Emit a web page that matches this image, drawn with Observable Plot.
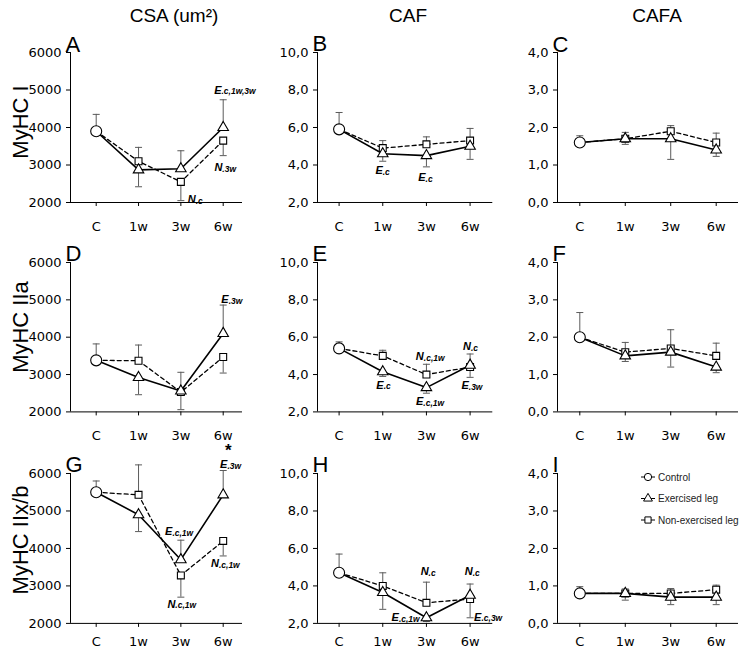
<!DOCTYPE html>
<html>
<head>
<meta charset="utf-8">
<script src="https://cdn.jsdelivr.net/npm/d3@7"></script>
<script src="https://cdn.jsdelivr.net/npm/@observablehq/plot@0.6"></script>
<style>
  html, body { margin: 0; padding: 0; background: #fff; }
  #wrap { position: relative; width: 745px; height: 655px; overflow: hidden; font-family: "Liberation Sans", Arial, sans-serif; color: #000; }
  .panel { position: absolute; }
  .coltitle { position: absolute; font-size: 19px; transform: translate(-50%, -50%); white-space: nowrap; }
  .rowlabel { position: absolute; font-size: 22px; white-space: nowrap; transform: translate(-50%, -50%) rotate(-90deg); }
  .legend { position: absolute; overflow: visible; }
</style>
</head>
<body>
<div id="wrap"></div>
<script>
// ---------- data ----------
const weeks = ["C", "1w", "3w", "6w"];
const panelLetters = ["A", "B", "C", "D", "E", "F", "G", "H", "I"];
const colTitles = ["CSA (um²)", "CAF", "CAFA"];
const rowLabels = ["MyHC I", "MyHC IIa", "MyHC IIx/b"];
const yTicksCSA = [2000, 3000, 4000, 5000, 6000];
const yTicksCAF = [2, 4, 6, 8, 10];
const yTicksCAFA = [0, 1, 2, 3, 4];
const seriesNames = ["Control", "Exercised leg", "Non-exercised leg"];

// control value (C) and end of its error bar, panels A..I
const controlMean = [3900, 5.9, 1.6, 3380, 5.4, 2.0, 5500, 4.7, 0.8];
const controlErr  = [4350, 6.8, 1.78, 3820, 5.75, 2.66, 5800, 5.7, 0.98];

// exercised leg at 1w, 3w, 6w
const exercisedMean = [
  [2870, 2900, 4000],
  [4.6, 4.5, 5.0],
  [1.7, 1.7, 1.4],
  [2920, 2560, 4100],
  [4.15, 3.3, 4.5],
  [1.5, 1.6, 1.2],
  [4900, 3700, 5430],
  [3.65, 2.3, 3.5],
  [0.8, 0.7, 0.7]
];
const exercisedErr = [
  [2420, 3380, 4740],
  [4.2, 3.9, 4.3],
  [1.55, 1.15, 1.23],
  [2460, 3060, 4860],
  [3.9, 3.0, 5.1],
  [1.35, 1.2, 1.05],
  [4450, 4220, 6080],
  [2.75, 2.1, 4.1],
  [0.62, 0.5, 0.5]
];
// non-exercised leg at 1w, 3w, 6w
const nonExercisedMean = [
  [3100, 2550, 3650],
  [4.9, 5.1, 5.3],
  [1.7, 1.9, 1.6],
  [3370, 2530, 3470],
  [5.0, 4.0, 4.4],
  [1.6, 1.7, 1.5],
  [5430, 3280, 4200],
  [4.0, 3.1, 3.3],
  [0.8, 0.8, 0.9]
];
const nonExercisedErr = [
  [3470, 2050, 3250],
  [5.3, 5.5, 5.95],
  [1.87, 2.05, 1.85],
  [3790, 2060, 3040],
  [5.3, 4.55, 3.85],
  [1.86, 2.2, 1.84],
  [6230, 2700, 3800],
  [4.7, 4.2, 2.3],
  [0.92, 0.93, 1.02]
];

// significance labels: panel, x (week index), y (value), main letter, subscript
const annotations = [
  ["A", 2.96, 5000, "E", ".c,1w,3w"],
  ["A", 2.98, 2930, "N", ".3w"],
  ["A", 2.35, 2070, "N", ".c"],
  ["B", 1.0, 3.69, "E", ".c"],
  ["B", 1.98, 3.33, "E", ".c"],
  ["D", 3.13, 5010, "E", ".3w"],
  ["E", 3.02, 5.48, "N", ".c"],
  ["E", 1.94, 4.95, "N", ".c,1w"],
  ["E", 1.02, 3.43, "E", ".c"],
  ["E", 1.93, 2.54, "E", ".c,1w"],
  ["E", 2.97, 3.39, "E", ".3w"],
  ["G", 3.1, 6230, "E", ".3w"],
  ["G", 1.8, 4440, "E", ".c,1w"],
  ["G", 2.9, 3595, "N", ".c,1w"],
  ["G", 1.87, 2515, "N", ".c,1w"],
  ["H", 2.05, 4.75, "N", ".c"],
  ["H", 3.06, 4.75, "N", ".c"],
  ["H", 1.37, 2.32, "E", ".c,1w"],
  ["H", 3.26, 2.33, "E", ".c,3w"]
];
const stars = [["G", 3.12, 6600]];

// ---------- layout ----------
const colAxisX  = [70, 316.7, 557];
const colFirstX = [95.7, 338.3, 579.3];
const colLastX  = [222.7, 469.3, 715.7];
const colEndX   = [242, 492, 738];
const rowTopY    = [51.7, 262.3, 473.4];
const rowBottomY = [201.7, 411.7, 623.3];
const xLabelPad  = [15, 15, 9];
const colTitleX = [174, 408, 657];
const rowLabelY = [122, 327, 540];
const yDomains = [[2000, 6000], [2, 10], [0, 4]];
const yTicks = [yTicksCSA, yTicksCAF, yTicksCAFA];
const yFormats = [d => String(d), d => d.toFixed(1).replace(".", ","), d => d.toFixed(1).replace(".", ",")];

const errColor = "#5a5a5a";
const capSymbol = {
  draw(context, size) {
    const w = Math.sqrt(size / Math.PI);
    context.moveTo(-w, 0);
    context.lineTo(w, 0);
  }
};

const wrap = document.getElementById("wrap");

function makePanel(p) {
  const c = p % 3, r = Math.floor(p / 3);
  const ML = 55, MR = 12, MT = 30, MB = 30;
  const innerW = colEndX[c] - colAxisX[c];
  const innerH = rowBottomY[r] - rowTopY[r];
  const step = (colLastX[c] - colFirstX[c]) / 3;
  const x0 = -(colFirstX[c] - colAxisX[c]) / step;
  const x1 = 3 + (colEndX[c] - colLastX[c]) / step;
  const [y0, y1] = yDomains[c];
  const ctrl = {i: 0, v: controlMean[p], e: controlErr[p]};
  const ex = exercisedMean[p].map((v, k) => ({i: k + 1, v, e: exercisedErr[p][k]}));
  const ne = nonExercisedMean[p].map((v, k) => ({i: k + 1, v, e: nonExercisedErr[p][k]}));
  const errs = [ctrl, ...ex, ...ne];
  const letter = panelLetters[p];
  const anns = annotations.filter(a => a[0] === letter);
  const st = stars.filter(a => a[0] === letter);

  const chart = Plot.plot({
    width: ML + innerW + MR,
    height: MT + innerH + MB,
    marginLeft: ML, marginRight: MR, marginTop: MT, marginBottom: MB,
    x: {domain: [x0, x1], label: null},
    y: {domain: [y0, y1], label: null},
    style: {fontFamily: "DejaVu Sans", fontSize: "13px", color: "#000", background: "transparent", overflow: "visible"},
    marks: [
      Plot.axisY({ticks: yTicks[c], tickFormat: yFormats[c], tickSize: 4, tickPadding: 5, fontSize: 13, label: null}),
      Plot.axisX({ticks: [0, 1, 2, 3], tickFormat: i => weeks[i], tickSize: 4, tickPadding: xLabelPad[r], fontSize: 13, label: null}),
      Plot.ruleY([y0], {x1: x0, x2: x1, stroke: "#000", strokeWidth: 1}),
      Plot.ruleX([x0], {y1: y0, y2: y1, stroke: "#000", strokeWidth: 1}),
      Plot.ruleX(errs, {x: "i", y1: "v", y2: "e", stroke: errColor, strokeWidth: 1}),
      Plot.dot(errs, {x: "i", y: "e", symbol: capSymbol, r: 3.5, stroke: errColor, fill: "none", strokeWidth: 1}),
      Plot.line([ctrl, ...ne], {x: "i", y: "v", stroke: "#000", strokeWidth: 1.3, strokeDasharray: "4,3"}),
      Plot.line([ctrl, ...ex], {x: "i", y: "v", stroke: "#000", strokeWidth: 1.6}),
      Plot.dot(ne, {x: "i", y: "v", symbol: "square", r: 3.9, fill: "#fff", stroke: "#000", strokeWidth: 1.1}),
      Plot.dot(ex, {x: "i", y: "v", symbol: "triangle", r: 3.9, fill: "#fff", stroke: "#000", strokeWidth: 1.1}),
      Plot.dot([ctrl], {x: "i", y: "v", symbol: "circle", r: 5.5, fill: "#fff", stroke: "#000", strokeWidth: 1.1}),
      Plot.text(anns, {x: d => d[1], y: d => d[2], text: d => d[3], textAnchor: "end", fontWeight: "bold", fontStyle: "italic", fontSize: 11, fontFamily: "Liberation Sans", fill: "#000"}),
      Plot.text(anns, {x: d => d[1], y: d => d[2], text: d => d[4], textAnchor: "start", fontWeight: "bold", fontStyle: "italic", fontSize: 8.5, dy: 1.5, fontFamily: "Liberation Sans", fill: "#000"}),
      Plot.text(st, {x: d => d[1], y: d => d[2], text: d => "*", fontWeight: "bold", fontSize: 17, fontFamily: "Liberation Sans", fill: "#000"}),
      Plot.text([letter], {text: d => d, frameAnchor: "top-left", textAnchor: "start", lineAnchor: "bottom", dx: -5, dy: -1, fontSize: 22, fontFamily: "Liberation Sans", fill: "#000"})
    ]
  });
  chart.classList.add("panel");
  chart.style.left = (colAxisX[c] - ML) + "px";
  chart.style.top = (rowTopY[r] - MT) + "px";
  wrap.appendChild(chart);
}

for (let p = 0; p < 9; p++) makePanel(p);

colTitles.forEach((t, c) => {
  const d = document.createElement("div");
  d.className = "coltitle";
  d.textContent = t;
  d.style.left = colTitleX[c] + "px";
  d.style.top = "16px";
  wrap.appendChild(d);
});
rowLabels.forEach((t, r) => {
  const d = document.createElement("div");
  d.className = "rowlabel";
  d.textContent = t;
  d.style.left = "21px";
  d.style.top = rowLabelY[r] + "px";
  wrap.appendChild(d);
});

// legend (inside panel I)
const lg = d3.select(wrap).append("svg").attr("class", "legend")
  .attr("width", 108).attr("height", 66)
  .style("left", "636px").style("top", "466px");
const legendSymbols = [d3.symbolCircle, d3.symbolTriangle, d3.symbolSquare];
const legendSizes = [42, 34, 38];
seriesNames.forEach((name, k) => {
  const y = 11 + k * 21.5;
  lg.append("line").attr("x1", 5).attr("x2", 19).attr("y1", y).attr("y2", y).attr("stroke", "#000").attr("stroke-width", 1);
  lg.append("path").attr("d", d3.symbol(legendSymbols[k], legendSizes[k])()).attr("transform", `translate(12,${y})`)
    .attr("fill", "#fff").attr("stroke", "#000").attr("stroke-width", 1);
  lg.append("text").attr("x", 22).attr("y", y).attr("dy", "0.35em").attr("font-size", 10)
    .attr("font-family", "Liberation Sans, Arial, sans-serif").attr("fill", "#222").text(name);
});
</script>
</body>
</html>
